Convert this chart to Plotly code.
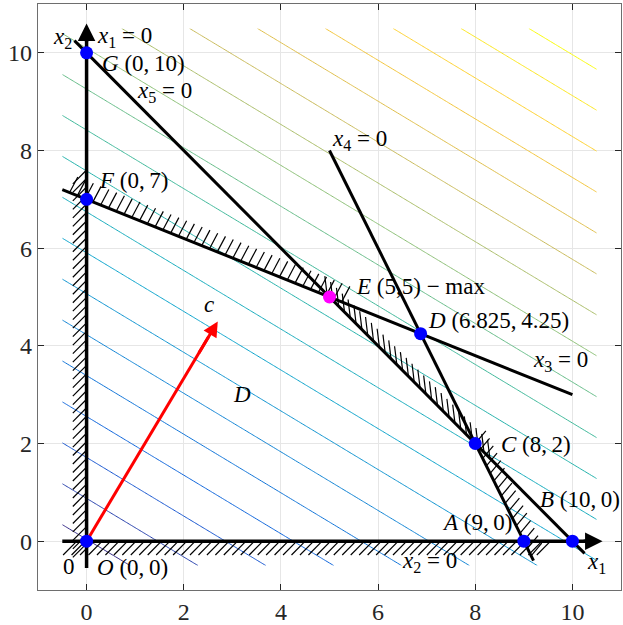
import numpy as np
import plotly.graph_objects as go

# ---------------- data ----------------
obj_c = [3, 5]                      # objective coefficients z = 3 x1 + 5 x2
grid_lo, grid_hi = -0.5, 10.5       # contour grid extent
n_levels = 20

# constraint lines a1*x1 + a2*x2 = b, drawn for x1 in [x_from, x_to]
con_names = ["x3", "x4", "x5"]
con_a1 = [2, 2, 1]
con_a2 = [5, 1, 1]
con_b = [35, 18, 10]
con_x_from = [-0.5, 5.0, -0.25]
con_x_to = [10.0, 9.2, 10.25]

# vertices
pt_names = ["O", "A", "B", "C", "D", "E", "F", "G"]
pt_x = [0, 9, 10, 8, 6.875, 5, 0, 0]
pt_y = [0, 0, 0, 2, 4.25, 5, 7, 10]
pt_color = ["blue", "blue", "blue", "blue", "blue", "magenta", "blue", "blue"]

# objective direction arrow
arrow_c = [2.7, 4.5]

tick_vals = [0, 2, 4, 6, 8, 10]

FONT = "Liberation Serif"

parula = [
    [0.0, "#352A87"], [0.125, "#0F5CDD"], [0.25, "#1481D6"], [0.375, "#06A4CA"],
    [0.5, "#2EB7A4"], [0.625, "#87BF77"], [0.75, "#D1BB59"], [0.875, "#FEC832"],
    [1.0, "#F9FB0E"],
]

fig = go.Figure()

# ---------------- contour lines of objective ----------------
gx = np.linspace(grid_lo, grid_hi, 221)
gy = np.linspace(grid_lo, grid_hi, 221)
GX, GY = np.meshgrid(gx, gy)
Z = obj_c[0] * GX + obj_c[1] * GY
zmin, zmax = float(Z.min()), float(Z.max())
step = (zmax - zmin) / (n_levels + 1)
fig.add_trace(go.Contour(
    x=gx, y=gy, z=Z, zmin=zmin, zmax=zmax,
    contours=dict(start=zmin + step, end=zmax - step + 1e-9, size=step,
                  coloring="lines", showlabels=False),
    line=dict(width=1), colorscale=parula, showscale=False, hoverinfo="skip",
))


# ---------------- hatching ----------------
def line_y(i, x):
    return (con_b[i] - con_a1[i] * x) / con_a2[i]


def hatch(p0, p1, ang, length, spacing):
    p0 = np.array(p0, float)
    p1 = np.array(p1, float)
    L = np.hypot(*(p1 - p0))
    n = int(L / spacing) + 1
    d = length * np.array([np.cos(np.radians(ang)), np.sin(np.radians(ang))])
    xs, ys = [], []
    for k in range(n + 1):
        p = p0 + (p1 - p0) * k / n
        q = p + d
        xs += [p[0], q[0], None]
        ys += [p[1], q[1], None]
    return xs, ys


hx, hy = [], []
specs = [
    ((0, -0.05), (0, 7.6), 225, 0.4),
    ((-0.2, 0), (9.55, 0), 225, 0.4),
    ((-0.35, line_y(0, -0.35)), (5.25, line_y(0, 5.25)), 62, 0.36),
    ((4.95, line_y(2, 4.95)), (8.3, line_y(2, 8.3)), 97, 0.38),
    ((8.0, line_y(1, 8.0)), (9.15, line_y(1, 9.15)), 50, 0.34),
]
for p0, p1, ang, ln in specs:
    a, b = hatch(p0, p1, ang, ln, 0.175)
    hx += a
    hy += b
fig.add_trace(go.Scatter(x=hx, y=hy, mode="lines",
                         line=dict(color="black", width=1.2), hoverinfo="skip"))

# ---------------- constraint lines ----------------
for i in range(len(con_names)):
    xs = [con_x_from[i], con_x_to[i]]
    ys = [line_y(i, v) for v in xs]
    fig.add_trace(go.Scatter(x=xs, y=ys, mode="lines",
                             line=dict(color="black", width=3), hoverinfo="skip"))

# coordinate axes x1 = 0 and x2 = 0
fig.add_trace(go.Scatter(x=[0, 0], y=[-0.55, 10.3], mode="lines",
                         line=dict(color="black", width=3.5), hoverinfo="skip"))
fig.add_trace(go.Scatter(x=[-0.5, 10.3], y=[0, 0], mode="lines",
                         line=dict(color="black", width=3.5), hoverinfo="skip"))

# objective arrow shaft
fig.add_trace(go.Scatter(x=[0, arrow_c[0] * 0.93], y=[0, arrow_c[1] * 0.93], mode="lines",
                         line=dict(color="red", width=3), hoverinfo="skip"))

# vertices
fig.add_trace(go.Scatter(x=pt_x, y=pt_y, mode="markers",
                         marker=dict(color=pt_color, size=13, line=dict(width=0)),
                         hoverinfo="skip"))

annotations = []
# arrow heads
annotations.append(dict(x=0, y=10.6, ax=0, ay=10.2, xref="x", yref="y", axref="x", ayref="y",
                        showarrow=True, arrowhead=2, arrowsize=1, arrowwidth=3.5,
                        arrowcolor="black", text=""))
annotations.append(dict(x=10.62, y=0, ax=10.2, ay=0, xref="x", yref="y", axref="x", ayref="y",
                        showarrow=True, arrowhead=2, arrowsize=1, arrowwidth=3.5,
                        arrowcolor="black", text=""))
annotations.append(dict(x=arrow_c[0], y=arrow_c[1], ax=arrow_c[0] * 0.85, ay=arrow_c[1] * 0.85,
                        xref="x", yref="y", axref="x", ayref="y",
                        showarrow=True, arrowhead=2, arrowsize=1, arrowwidth=3,
                        arrowcolor="red", text=""))

T = "\u2009"
labels = [
    (-0.5, 10.3, "<i>x</i><sub>2</sub>", "center"),
    (0.18, 10.32, f"<i>x</i><sub>1</sub> = 0", "left"),
    (0.28, 9.78, f"<i>G</i> (0,{T}10)", "left"),
    (1.0, 9.2, f"<i>x</i><sub>5</sub> = 0", "left"),
    (5.02, 8.22, f"<i>x</i><sub>4</sub> = 0", "left"),
    (0.22, 7.38, f"<i>F</i> (0,{T}7)", "left"),
    (5.5, 5.22, f"<i>E</i> (5,5) − max", "left"),
    (6.98, 4.52, f"<i>D</i> (6.825,{T}4.25)", "left"),
    (9.15, 3.68, f"<i>x</i><sub>3</sub> = 0", "left"),
    (2.52, 4.85, "<i>c</i>", "center"),
    (3.2, 3.0, "<i>D</i>", "center"),
    (8.48, 1.98, f"<i>C</i> (8,{T}2)", "left"),
    (9.3, 0.85, f"<i>B</i> (10,{T}0)", "left"),
    (7.28, 0.38, f"<i>A</i> (9,{T}0)", "left"),
    (10.5, -0.45, "<i>x</i><sub>1</sub>", "center"),
    (6.45, -0.42, f"<i>x</i><sub>2</sub> = 0", "left"),
    (-0.36, -0.52, "0", "center"),
    (0.18, -0.53, f"<i>O</i> (0,{T}0)", "left"),
]
for x, y, t, anc in labels:
    annotations.append(dict(x=x, y=y, xref="x", yref="y", text=t, showarrow=False,
                            xanchor=anc, yanchor="middle",
                            font=dict(family=FONT, size=23, color="black")))

axis_common = dict(
    range=[-1, 11], tickvals=tick_vals, ticks="inside", ticklen=6, tickwidth=1,
    tickcolor="#262626", showline=True, linecolor="#6e6e6e", linewidth=1.2, mirror="ticks",
    showgrid=True, gridcolor="#e6e6e6", gridwidth=1, zeroline=False, automargin=False,
    tickfont=dict(family=FONT, size=24, color="#262626"),
)

fig.update_layout(
    width=623, height=625, autosize=False,
    margin=dict(l=38, r=2, t=4, b=35),
    paper_bgcolor="white", plot_bgcolor="white",
    showlegend=False,
    xaxis=axis_common,
    yaxis=axis_common,
    annotations=annotations,
)

fig.write_html(
    "out.html",
    config={"responsive": False, "displayModeBar": False},
    post_script="document.body.style.margin='0px';document.body.style.padding='0px';"
                "document.body.style.overflow='hidden';",
)
